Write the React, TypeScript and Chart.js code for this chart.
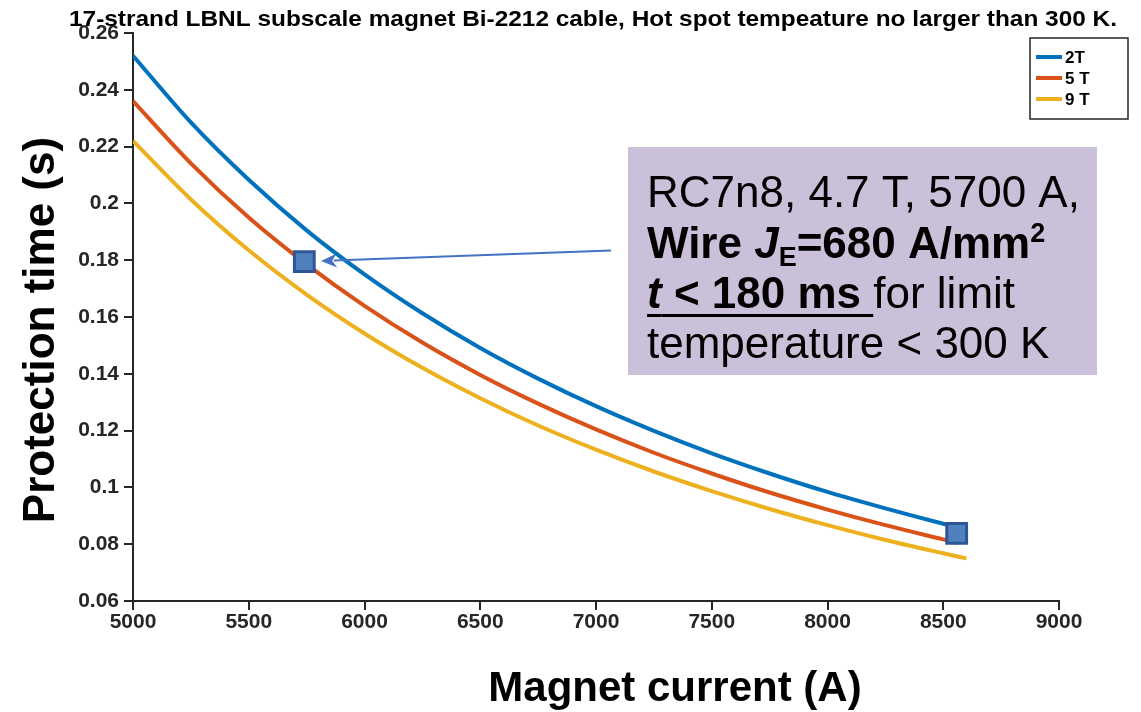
import React, { useEffect, useRef } from 'react';
import { Chart, registerables } from 'chart.js';

Chart.register(...registerables);

// ---- data ----
const currents = [5000, 5250, 5500, 5750, 6000, 6250, 6500, 6750, 7000, 7250, 7500, 7750, 8000, 8250, 8500, 8560];
const time2T = [0.252, 0.2285, 0.2083, 0.1905, 0.175, 0.1613, 0.1491, 0.1383, 0.1286, 0.1199, 0.112, 0.1049, 0.0984, 0.0926, 0.0872, 0.086];
const time5T = [0.236, 0.2141, 0.195, 0.1785, 0.1639, 0.151, 0.1396, 0.1295, 0.1204, 0.1122, 0.1049, 0.0982, 0.0922, 0.0867, 0.0817, 0.0805];
const currents9T = [5000, 5250, 5500, 5750, 6000, 6250, 6500, 6750, 7000, 7250, 7500, 7750, 8000, 8250, 8500, 8600];
const time9T = [0.222, 0.2014, 0.1835, 0.1679, 0.1542, 0.1421, 0.1314, 0.1218, 0.1133, 0.1056, 0.0987, 0.0924, 0.0867, 0.0815, 0.0768, 0.075];
const markerCurrents = [5740, 8558];
const markerTimes = [0.1795, 0.0838];
const seriesLabels = ['2T', '5 T', '9 T'];
const seriesColors = ['#0072BD', '#D95319', '#EDB120'];

const titleText = '17-strand LBNL subscale magnet Bi-2212 cable, Hot spot tempeature no larger than 300 K.';
const xLabel = 'Magnet current (A)';
const yLabel = 'Protection time (s)';

const FONT = '"Liberation Sans", Arial, Helvetica, sans-serif';

type Run = { t: string; font: string; dy?: number; underline?: boolean };

function drawRuns(ctx: CanvasRenderingContext2D, runs: Run[], x: number, y: number) {
  let cx = x;
  for (const r of runs) {
    ctx.font = r.font;
    const w = ctx.measureText(r.t).width;
    ctx.fillText(r.t, cx, y + (r.dy || 0));
    if (r.underline) {
      ctx.fillRect(cx, y + 6, w, 3);
    }
    cx += w;
  }
}

const overlayPlugin = {
  id: 'overlay',
  afterDatasetsDraw(chart: any) {
    const ctx: CanvasRenderingContext2D = chart.ctx;
    const xs = chart.scales.x;
    const ys = chart.scales.y;
    ctx.save();

    // title (stretched horizontally like the original)
    ctx.fillStyle = '#000';
    ctx.font = `bold 22px ${FONT}`;
    ctx.textBaseline = 'alphabetic';
    ctx.textAlign = 'center';
    const tw = ctx.measureText(titleText).width;
    const targetW = 1048;
    ctx.save();
    ctx.translate(593, 26);
    ctx.scale(targetW / tw, 1);
    ctx.fillText(titleText, 0, 0);
    ctx.restore();

    // x label
    ctx.font = `bold 42px ${FONT}`;
    ctx.textAlign = 'center';
    ctx.fillText(xLabel, 675, 701);

    // y label
    ctx.save();
    ctx.font = `bold 44px ${FONT}`;
    ctx.translate(54, 330);
    ctx.rotate(-Math.PI / 2);
    ctx.fillText(yLabel, 0, 0);
    ctx.restore();

    // legend
    const lx = 1030, ly = 38, lw = 98, lh = 81;
    ctx.fillStyle = '#fff';
    ctx.fillRect(lx, ly, lw, lh);
    ctx.strokeStyle = '#262626';
    ctx.lineWidth = 1.5;
    ctx.strokeRect(lx, ly, lw, lh);
    ctx.textAlign = 'left';
    ctx.textBaseline = 'middle';
    ctx.font = `bold 17px ${FONT}`;
    seriesLabels.forEach((lab, i) => {
      const yy = ly + 19 + i * 21;
      ctx.strokeStyle = seriesColors[i];
      ctx.lineWidth = 4;
      ctx.beginPath();
      ctx.moveTo(lx + 6, yy);
      ctx.lineTo(lx + 32, yy);
      ctx.stroke();
      ctx.fillStyle = '#000';
      ctx.fillText(lab, lx + 35, yy + 1);
    });

    // annotation box
    const bx = 628, by = 147, bw = 469, bh = 228;
    ctx.fillStyle = '#CBC0DA';
    ctx.fillRect(bx, by, bw, bh);
    ctx.fillStyle = '#000';
    ctx.textBaseline = 'alphabetic';
    ctx.textAlign = 'left';
    const reg = `44px ${FONT}`;
    const bold = `bold 44px ${FONT}`;
    const boldIt = `italic bold 44px ${FONT}`;
    const small = `bold 27px ${FONT}`;
    const tx = 647;
    drawRuns(ctx, [{ t: 'RC7n8, 4.7 T, 5700 A,', font: reg }], tx, 207);
    drawRuns(ctx, [
      { t: 'Wire ', font: bold },
      { t: 'J', font: boldIt },
      { t: 'E', font: small, dy: 8 },
      { t: '=680 A/mm', font: bold },
      { t: '2', font: small, dy: -16 },
    ], tx, 258);
    drawRuns(ctx, [
      { t: 't', font: boldIt, underline: true },
      { t: ' < 180 ms ', font: bold, underline: true },
      { t: 'for limit', font: reg },
    ], tx, 308);
    drawRuns(ctx, [{ t: 'temperature < 300 K', font: reg }], tx, 358);

    // arrow from the box to the measured point
    const x0 = xs.getPixelForValue(7065);
    const y0 = ys.getPixelForValue(0.1834);
    const x1 = xs.getPixelForValue(5812);
    const y1 = ys.getPixelForValue(0.1797);
    const ang = Math.atan2(y1 - y0, x1 - x0);
    const headL = 16, headW = 7;
    ctx.strokeStyle = '#4472C4';
    ctx.fillStyle = '#4472C4';
    ctx.lineWidth = 2;
    ctx.beginPath();
    ctx.moveTo(x0, y0);
    ctx.lineTo(x1 - Math.cos(ang) * headL * 0.8, y1 - Math.sin(ang) * headL * 0.8);
    ctx.stroke();
    ctx.beginPath();
    ctx.moveTo(x1, y1);
    ctx.lineTo(x1 - Math.cos(ang) * headL - Math.sin(ang) * headW, y1 - Math.sin(ang) * headL + Math.cos(ang) * headW);
    ctx.lineTo(x1 - Math.cos(ang) * headL * 0.7, y1 - Math.sin(ang) * headL * 0.7);
    ctx.lineTo(x1 - Math.cos(ang) * headL + Math.sin(ang) * headW, y1 - Math.sin(ang) * headL - Math.cos(ang) * headW);
    ctx.closePath();
    ctx.fill();

    ctx.restore();
  },
};

export default function App() {
  const ref = useRef<HTMLCanvasElement | null>(null);

  useEffect(() => {
    document.body.style.margin = '0';
    if (!ref.current) return;
    const toPts = (xsArr: number[], ysArr: number[]) => xsArr.map((x, i) => ({ x, y: ysArr[i] }));
    const tickFont = { family: FONT, size: 21, weight: 'bold' as const };
    const axisColor = '#262626';
    const chart = new Chart(ref.current, {
      type: 'line',
      data: {
        datasets: [
          {
            label: 'point',
            data: toPts(markerCurrents, markerTimes),
            showLine: false,
            pointStyle: 'rect',
            pointRadius: 14,
            pointHoverRadius: 14,
            pointBackgroundColor: '#4F81BD',
            pointBorderColor: '#2F5597',
            pointBorderWidth: 3,
            order: 0,
          },
          {
            label: seriesLabels[0],
            data: toPts(currents, time2T),
            borderColor: seriesColors[0],
            borderWidth: 4,
            pointRadius: 0,
            cubicInterpolationMode: 'monotone',
            order: 1,
          },
          {
            label: seriesLabels[1],
            data: toPts(currents, time5T),
            borderColor: seriesColors[1],
            borderWidth: 4,
            pointRadius: 0,
            cubicInterpolationMode: 'monotone',
            order: 1,
          },
          {
            label: seriesLabels[2],
            data: toPts(currents9T, time9T),
            borderColor: seriesColors[2],
            borderWidth: 4,
            pointRadius: 0,
            cubicInterpolationMode: 'monotone',
            order: 1,
          },
        ],
      },
      options: {
        responsive: false,
        animation: false,
        devicePixelRatio: 1,
        layout: { padding: { left: 0, top: 33, right: 82, bottom: 0 } },
        plugins: { legend: { display: false }, tooltip: { enabled: false }, title: { display: false } },
        scales: {
          x: {
            type: 'linear',
            min: 5000,
            max: 9000,
            afterFit: (s: any) => { s.height = 111; },
            ticks: {
              stepSize: 500,
              font: tickFont,
              color: axisColor,
              padding: 0,
              maxRotation: 0,
              autoSkip: false,
              callback: (v: any) => String(Math.round(Number(v))),
            },
            grid: { display: true, drawOnChartArea: false, drawTicks: true, tickLength: 9, color: axisColor, lineWidth: 2 },
            border: { display: true, color: axisColor, width: 2 },
          },
          y: {
            type: 'linear',
            min: 0.06,
            max: 0.26,
            afterFit: (s: any) => { s.width = 133; },
            ticks: {
              stepSize: 0.02,
              font: tickFont,
              color: axisColor,
              padding: 5,
              autoSkip: false,
              callback: (v: any) => String(Number(Number(v).toFixed(2))),
            },
            grid: { display: true, drawOnChartArea: false, drawTicks: true, tickLength: 9, color: axisColor, lineWidth: 2 },
            border: { display: true, color: axisColor, width: 2 },
          },
        },
      },
      plugins: [overlayPlugin],
    } as any);
    return () => chart.destroy();
  }, []);

  return (
    <div style={{ position: 'absolute', left: 0, top: 0, width: 1141, height: 712, background: '#fff' }}>
      <canvas ref={ref} width={1141} height={712} style={{ width: 1141, height: 712, display: 'block' }} />
    </div>
  );
}
